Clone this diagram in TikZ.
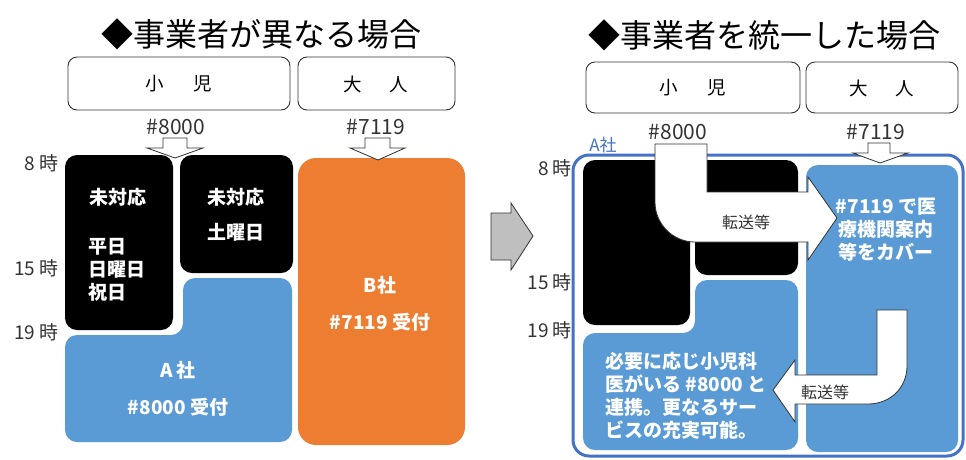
\documentclass[tikz,border=0pt]{standalone}
\usepackage{fontspec}
\setmainfont{Noto Sans CJK JP}
\definecolor{myblue}{HTML}{5B9BD5}
\definecolor{bordblue}{HTML}{4472C4}
\definecolor{myorange}{HTML}{ED7D31}
\definecolor{txtgray}{HTML}{333333}
\definecolor{arrgray}{HTML}{BFBFBF}
\tikzset{
  blk/.style={fill=black, rounded corners=12pt},
  blu/.style={fill=myblue, rounded corners=12pt},
  org/.style={fill=myorange, rounded corners=18pt},
  hdr/.style={draw=txtgray, line width=0.9pt, rounded corners=9pt},
  barrow/.style={fill=white, draw=txtgray, line width=0.8pt, line join=miter},
  title/.style={font=\fontsize{32}{38}\selectfont, text=black, inner sep=0pt},
  hlab/.style={font=\fontsize{18.5}{22}\selectfont, text=black, inner sep=0pt},
  num/.style={font=\fontsize{21}{24}\selectfont, text=txtgray, inner sep=0pt},
  tlab/.style={font=\fontsize{19}{22}\selectfont, text=txtgray, inner sep=0pt},
  wtxt/.style={font=\bfseries\fontsize{19}{23}\selectfont, text=white, inner sep=0pt},
  atxt/.style={font=\fontsize{16}{19}\selectfont, text=txtgray, inner sep=0pt},
}
\begin{document}
\begin{tikzpicture}[x=1pt, y=-1pt]
\useasboundingbox[fill=white] (0,0) rectangle (966,459);

% ---------- left panel ----------
\node[title] (t1) at (261,34) {◆事業者が異なる場合};
\draw[hdr] (68,57) rectangle (290,110);
\draw[hdr] (298,57) rectangle (455,110);
\node[hlab] (l1) at (179,84) {小\hspace{1.6em}児};
\node[hlab] (l2) at (376,84) {大\hspace{1.5em}人};
\node[num] (n1) at (176,127) {\#8000};
\node[num] (n2) at (376,127) {\#7119};

\path[blk] (65,155) rectangle (173,330);
\path[blk] (180,155) rectangle (293,273);
\path[blu] (183,278) -- (292,278) -- (292,442) -- (65,442) -- (65,335) -- (183,335) -- cycle;
\path[org] (298,158) rectangle (465,445);

\draw[barrow] (163,138) -- (187,138) -- (187,148) -- (203,148) -- (175,158) -- (147,148) -- (163,148) -- cycle;
\draw[barrow] (365,138) -- (390,138) -- (390,148) -- (405,148) -- (378,160) -- (350,148) -- (365,148) -- cycle;

\node[tlab, anchor=east] (h8a) at (59,163) {8 時};
\node[tlab, anchor=east] (h15a) at (59,268) {15 時};
\node[tlab, anchor=east] (h19a) at (59,332) {19 時};

\node[wtxt] (u1) at (118,197) {未対応};
\node[wtxt, anchor=west, align=left] (u1d) at (88,270) {平日\\日曜日\\祝日};
\node[wtxt] (u2) at (236,197) {未対応};
\node[wtxt] (u2d) at (236,232) {土曜日};
\node[wtxt] (aco) at (178,370) {A 社};
\node[wtxt] (aco2) at (178,407) {\#8000 受付};
\node[wtxt] (bco) at (380,285) {B社};
\node[wtxt] (bco2) at (380,322) {\#7119 受付};

% ---------- middle arrow ----------
\draw[fill=arrgray, draw=txtgray, line width=0.8pt] (491,213) -- (511,213) -- (511,203) -- (533,236) -- (511,270) -- (511,260) -- (491,260) -- cycle;

% ---------- right panel ----------
\node[title] (t2) at (764,35) {◆事業者を統一した場合};
\draw[hdr] (586,62) rectangle (800,113);
\draw[hdr] (806,62) rectangle (958,113);
\node[hlab] (r1) at (693,88) {小\hspace{1.6em}児};
\node[hlab] (r2) at (882,88) {大\hspace{1.5em}人};
\node[num] (rn1) at (678,132) {\#8000};
\node[num] (rn2) at (876,132) {\#7119};
\node[font=\fontsize{17}{20}\selectfont, text=bordblue, inner sep=0pt] (ra) at (603,145) {A社};

\draw[draw=bordblue, line width=3pt, rounded corners=16pt, fill=white] (573,155) rectangle (963,456);
\path[blk] (583,160) rectangle (690,325);
\path[blk] (695,160) rectangle (798,275);
\path[blu] (695,280) -- (798,280) -- (798,450) -- (583,450) -- (583,333) -- (695,333) -- cycle;
\path[blu] (806,165) rectangle (958,452);

\draw[barrow] (868,143) -- (890,143) -- (890,153) -- (908,153) -- (880,163) -- (853,153) -- (868,153) -- cycle;

\node[tlab, anchor=east] (h8b) at (572,168) {8 時};
\node[tlab, anchor=east] (h15b) at (572,282) {15 時};
\node[tlab, anchor=east] (h19b) at (572,330) {19 時};

% bent arrow 1
\draw[barrow] (655,144) -- (655,202) .. controls (655,224) and (673,242) .. (695,242) -- (808,242) -- (808,260) -- (837,218) -- (808,177) -- (808,192) -- (707,192) -- (707,144) -- cycle;
\node[atxt] (tr1) at (746,222) {転送等};

% bent arrow 2
\draw[barrow] (877,310) -- (877,375) -- (795,375) -- (795,360) -- (773,390) -- (795,422) -- (795,404) -- (868,404) .. controls (890,404) and (907,388) .. (907,366) -- (907,310) -- cycle;
\node[atxt] (tr2) at (825,392) {転送等};

\node[wtxt, align=center] (rc) at (886,230) {\#7119 で医\\療機関案内\\等をカバー};
\node[wtxt, anchor=west, align=left] (lc) at (605,396) {必要に応じ小児科\\医がいる \#8000 と\\連携。更なるサー\\ビスの充実可能。};
\end{tikzpicture}
\end{document}
